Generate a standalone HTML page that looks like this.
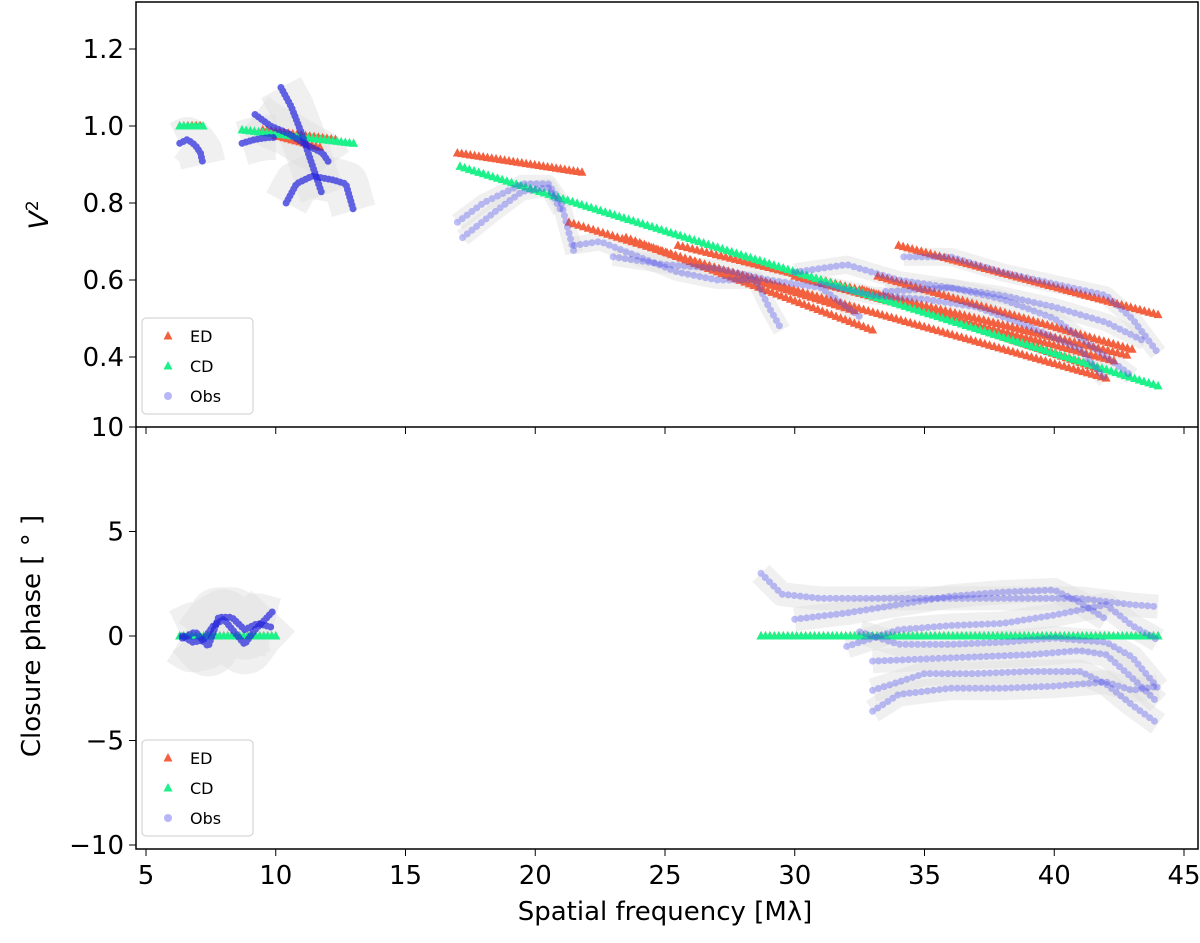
<!DOCTYPE html>
<html><head><meta charset="utf-8"><style>
body{margin:0;background:#fff;font-family:"Liberation Sans","DejaVu Sans",sans-serif}
svg text{font-family:"DejaVu Sans","Liberation Sans",sans-serif;fill:#000}
</style></head><body>
<svg id="c" width="1200" height="938" xmlns="http://www.w3.org/2000/svg"></svg>
<script>
// ---- data ----
const xTicks=[5,10,15,20,25,30,35,40,45];
const v2Ticks=[0.4,0.6,0.8,1.0,1.2];
const cpTicks=[-10,-5,0,5,10];
// model segments: [x0,y0,x1,y1,count]
const v2ED=[[6.3,1.0,7.1,1.0,6],[9.5,0.99,12.3,0.965,18],[10,0.975,11.7,0.945,12],[17,0.93,21.8,0.88,30],[21.3,0.75,32.3,0.52,60],[23.5,0.71,33,0.47,55],[25.5,0.69,42.8,0.405,95],[26,0.65,42,0.345,90],[30,0.61,42.3,0.39,70],[33.2,0.61,43,0.42,55],[32.6,0.575,41.7,0.37,52],[34,0.69,44,0.51,58]];
const v2CD=[[6.3,1.0,7.2,1.0,7],[8.7,0.99,13,0.955,28],[17.1,0.895,44,0.325,150]];
const cpED=[[6.3,0,10,0,25],[28.7,0,44,0,90]];
const cpCD=[[6.3,0,10,0,25],[28.7,0,44,0,90]];
const v2Obs=[
[[6.3,0.955],[6.6,0.965],[6.9,0.95],[7.1,0.93],[7.2,0.9]],
[[8.7,0.955],[9.2,0.965],[9.7,0.97],[10.0,0.97]],
[[9.2,1.03],[9.8,1.0],[10.5,0.98],[11.2,0.95],[11.8,0.93],[12.1,0.9]],
[[10.2,1.1],[10.6,1.05],[11,0.98],[11.4,0.9],[11.8,0.82]],
[[10.4,0.8],[10.8,0.85],[11.4,0.87],[12.2,0.86],[12.7,0.85],[13,0.78]],
[[17,0.75],[18,0.8],[19.5,0.85],[20.5,0.85],[21,0.8],[21.5,0.67]],
[[17.2,0.71],[18.5,0.78],[19.5,0.83],[20.5,0.84],[21,0.78]],
[[21.5,0.69],[22.5,0.7],[24,0.66],[25.5,0.62],[27,0.6],[28.5,0.6],[29,0.53],[29.5,0.47]],
[[23,0.66],[25,0.64],[27,0.63],[29,0.6],[31,0.58],[32,0.53],[32.6,0.5]],
[[30,0.62],[32,0.64],[34,0.6],[36,0.58],[38,0.55],[40,0.5],[42,0.4],[43,0.35]],
[[34.2,0.66],[36,0.66],[38,0.62],[40,0.59],[42,0.56],[43,0.5],[44,0.41]],
[[31,0.59],[33,0.56],[35,0.55],[37,0.53],[39,0.48],[41,0.42],[42,0.34]],
[[33.5,0.57],[36,0.58],[38,0.56],[40,0.53],[42,0.49],[43.5,0.44]]];
const cpObs=[
[[6.4,0],[6.8,-0.3],[7.2,-0.2],[7.6,0.5],[8,0.8],[8.4,0.2],[8.8,-0.4],[9.2,0.3],[9.6,0.8],[9.9,1.2]],
[[6.4,-0.1],[6.9,0.2],[7.4,-0.5],[7.8,0.9],[8.3,0.9],[8.8,0.3],[9.3,0.6],[9.9,0.4]],
[[28.7,3],[29.5,2],[31,1.8],[33,1.8],[35,1.8],[37,1.8],[39,1.8],[41,1.8],[43,1.5],[44,1.4]],
[[30,0.8],[32,1.1],[34,1.5],[36,1.9],[38,2.1],[40,2.2],[41,1.6],[42,0.8]],
[[32,-0.5],[34,0.3],[36,0.5],[38,0.6],[40,1.0],[42,1.5],[43,0.5],[44,-0.2]],
[[32.5,0.2],[34,-0.4],[36,-0.4],[38,-0.3],[40,-0.1],[42,-0.3],[43,-1],[44,-2.5]],
[[33,-1.2],[35,-1.1],[37,-1.0],[39,-0.9],[41,-0.7],[42,-0.9],[43,-2],[44,-3.2]],
[[33,-2.6],[35,-1.8],[37,-1.8],[39,-1.7],[41,-1.7],[42,-2.3],[43,-3.3],[44,-4.2]],
[[33,-3.6],[34,-2.8],[36,-2.5],[38,-2.5],[40,-2.4],[42,-2.2],[43,-2.6],[44,-2.4]]];
// ---- axes ----
const L=136,R=1198,T1=2,B1=427,T2=427,B2=849;
const X=v=>146+(v-5)*25.95;
const Y1=v=>126-(v-1)*385;
const Y2=v=>636-v*20.9;
const svg=document.getElementById('c');
const NS='http://www.w3.org/2000/svg';
function mk(tag,at,parent){const e=document.createElementNS(NS,tag);for(const k in at)e.setAttribute(k,at[k]);(parent||svg).appendChild(e);return e;}
function panel(Y,obs,ed,cd,name,errW){
  const g=mk('g',{});
  
  
  obs.forEach(s=>{const left=s[0][0]<14;const p=mk('polyline',{points:s.map(d=>X(d[0])+','+Y(d[1])).join(' '),fill:'none',stroke:'#ddd','stroke-width':left?errW*2.5:errW,'stroke-opacity':0.45,'stroke-linejoin':'round'},g);
    
    });
  function tri(segs,col,nm){segs.forEach(s=>{for(let i=0;i<s[4];i++){const f=i/(s[4]-1);const x=X(s[0]+(s[2]-s[0])*f),y=Y(s[1]+(s[3]-s[1])*f);
    const t=mk('polygon',{points:`${x},${y-5} ${x-4.5},${y+3.5} ${x+4.5},${y+3.5}`,fill:col},g);
    
    }});}
  tri(ed,'#f2603f','ed-marker');tri(cd,'#1df28a','cd-marker');
  obs.forEach(s=>{const left=s[0][0]<14;const p=mk('polyline',{points:s.map(d=>X(d[0])+','+Y(d[1])).join(' '),fill:'none',stroke:left?'#2222dd':'#4848ee','stroke-opacity':left?0.7:0.35,'stroke-width':7,'stroke-linecap':'round','stroke-dasharray':left?'0 4':'0 6','stroke-linejoin':'round'},g);
    
    });
}
panel(Y1,v2Obs,v2ED,v2CD,'v2-panel',18);
panel(Y2,cpObs,cpED,cpCD,'closure-phase-panel',24);
// frames
mk('rect',{x:L,y:T1,width:R-L,height:B2-T1,fill:'none',stroke:'#000','stroke-width':1.5});
mk('line',{x1:L,x2:R,y1:B1,y2:B1,stroke:'#000','stroke-width':1.5});
xTicks.forEach(v=>{mk('line',{x1:X(v),x2:X(v),y1:B1,y2:B1+7,stroke:'#000'});mk('line',{x1:X(v),x2:X(v),y1:B2,y2:B2+7,stroke:'#000'});
  const t=mk('text',{x:X(v),y:B2+35,'font-size':26,'text-anchor':'middle'});t.textContent=v;
  
  });
v2Ticks.forEach(v=>{mk('line',{x1:L-7,x2:L,y1:Y1(v),y2:Y1(v),stroke:'#000'});const t=mk('text',{x:L-12,y:Y1(v)+9,'font-size':26,'text-anchor':'end'});t.textContent=v.toFixed(1);
  
  });
cpTicks.forEach(v=>{mk('line',{x1:L-7,x2:L,y1:Y2(v),y2:Y2(v),stroke:'#000'});const t=mk('text',{x:L-12,y:Y2(v)+9,'font-size':26,'text-anchor':'end'});t.textContent=v<0?'\u2212'+(-v):v;
  
  });
let t=mk('text',{x:665,y:920,'font-size':26,'text-anchor':'middle'});t.textContent='Spatial frequency [M\u03bb]';

t=mk('text',{x:0,y:0,'font-size':27,'text-anchor':'middle',transform:'translate(48,215) rotate(-90)'});t.innerHTML='<tspan font-style="italic">V</tspan><tspan font-size="17" dy="-10">2</tspan>';

t=mk('text',{x:0,y:0,'font-size':26,'text-anchor':'middle',transform:'translate(40,636) rotate(-90)'});t.textContent='Closure phase [ \u00b0 ]';

// legends
[[318],[740]].forEach(([y0],i)=>{const g=mk('g',{});
  
  
  mk('rect',{x:142,y:y0,width:111,height:96,rx:4,fill:'#fff',stroke:'#ccc'},g);
  const items=[['ED','#f2603f','t'],['CD','#1df28a','t'],['Obs','#4848ee','c']];
  items.forEach((it,j)=>{const cy=y0+18+j*30,cx=168;
    if(it[2]=='t')mk('polygon',{points:`${cx},${cy-5} ${cx-4.5},${cy+3.5} ${cx+4.5},${cy+3.5}`,fill:it[1]},g);
    else mk('circle',{cx,cy,r:4,fill:it[1],'fill-opacity':0.4},g);
    const tx=mk('text',{x:190,y:cy+6,'font-size':16},g);tx.textContent=it[0];
    
    });
});
</script>
</body></html>
